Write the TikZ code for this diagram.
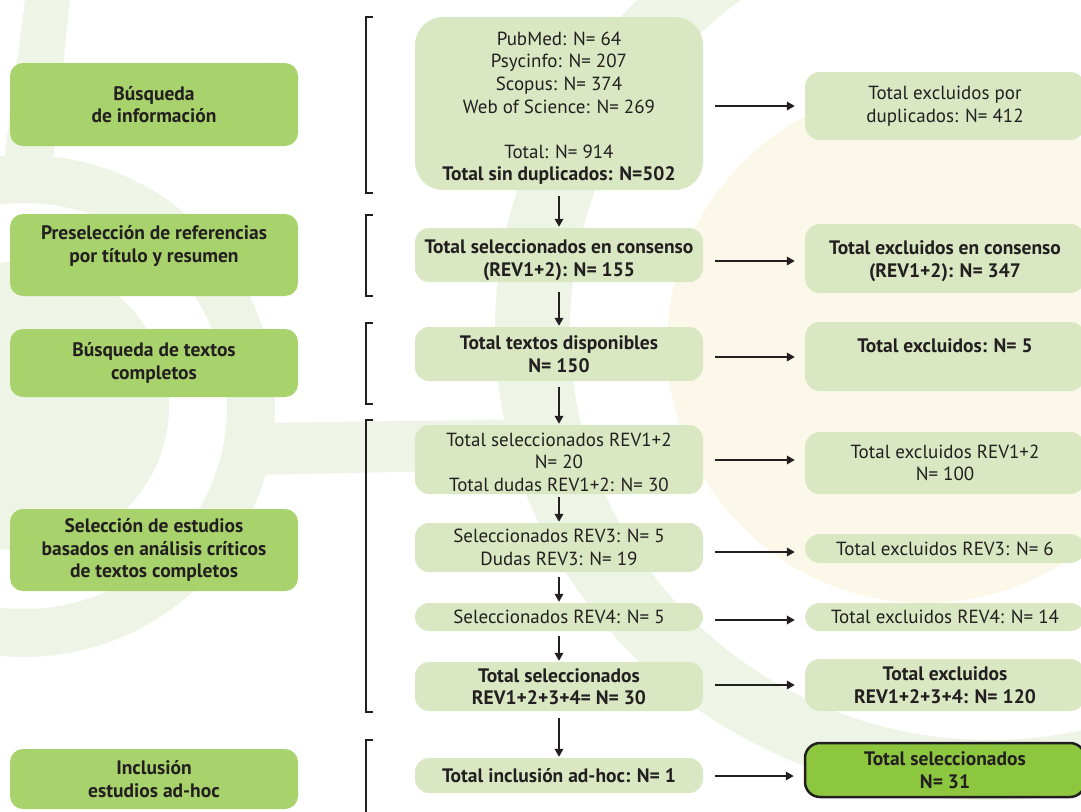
\documentclass[tikz,border=0pt]{standalone}
\usepackage{fontspec}
\setmainfont{PT Sans}
\usetikzlibrary{arrows.meta,calc}
\definecolor{dark}{HTML}{231F20}
\definecolor{lgreen}{HTML}{A8D26B}
\definecolor{pgreen}{HTML}{D9E8C2}
\definecolor{fgreen}{HTML}{8DC63F}
\definecolor{bgg}{HTML}{EEF5E7}
\definecolor{cream}{HTML}{FCF8E9}
\begin{document}
\begin{tikzpicture}[x=1pt,y=-1pt,
  txt/.style={font=\fontsize{19}{22.6}\selectfont, text=dark, align=center, inner sep=0pt},
  lbox/.style={txt, fill=lgreen, rounded corners=13pt, minimum width=288pt, font=\fontsize{19.5}{22.6}\selectfont\bfseries},
  mbox/.style={txt, fill=pgreen, rounded corners=14pt, minimum width=288pt},
  rbox/.style={txt, fill=pgreen, rounded corners=15pt, minimum width=280pt},
  bold/.style={font=\fontsize{19.5}{22.6}\selectfont\bfseries},
  arr/.style={draw=dark, line width=2.3pt, -{Triangle[length=8pt,width=8.5pt]}},
  brk/.style={draw=dark, line width=2.2pt}]
\useasboundingbox (0,0) rectangle (1081,811);
\clip (0,0) rectangle (1081,811);
% background decorations
\fill[cream] (925,345) circle[radius=258pt];
\fill[bgg, even odd rule] (990,330) ellipse[x radius=495pt, y radius=470pt] (990,330) ellipse[x radius=420pt, y radius=410pt];
\fill[bgg] (24,406) circle[radius=145pt];
\fill[bgg, even odd rule] (24,406) circle[radius=251pt] (24,406) circle[radius=203pt];
\fill[bgg] (25,0) -- (70,0) -- (52,170) -- (0,170) -- (0,190) -- cycle;
\fill[bgg] (255,423) -- (540,419) -- (540,469) -- (255,475) -- cycle;
% brackets
\draw[brk] (373,17) -- (366,17) -- (366,193) -- (373,193);
\draw[brk] (373,215) -- (366,215) -- (366,296) -- (373,296);
\draw[brk] (373,323) -- (366,323) -- (366,404) -- (373,404);
\draw[brk] (373,420) -- (366,420) -- (366,712) -- (373,712);
\draw[brk] (373,740) -- (366,740) -- (366,820);
% left column
\node[lbox, minimum height=83pt] (L1) at (154,104.5) {Búsqueda\\de información};
\node[lbox, minimum height=82pt] (L2) at (154,255) {Preselección de referencias\\por título y resumen\\\mbox{}};
\node[lbox, minimum height=68pt] (L3) at (154,363) {Búsqueda de textos\\completos};
\node[lbox, minimum height=82pt] (L4) at (154,550) {Selección de estudios\\basados en análisis críticos\\de textos completos};
\node[lbox, minimum height=60pt] (L5) at (154,779) {Inclusión\\estudios ad-hoc};
% middle column
\node[mbox, rounded corners=28pt, minimum height=173pt] (M1) at (559,103.5) {\rule{0pt}{23pt}PubMed: N= 64\\Psycinfo: N= 207\\Scopus: N= 374\\Web of Science: N= 269\\[22.6pt]Total: N= 914\\\textbf{\fontsize{19.5}{22.6}\selectfont Total sin duplicados: N=502}};
\node[mbox, bold, minimum height=54pt] (M2) at (559,255) {\rule{0pt}{24pt}Total seleccionados en consenso\\(REV1+2): N= 155};
\node[mbox, bold, minimum height=54pt] (M3) at (559,354) {Total textos disponibles\\N= 150};
\node[mbox, minimum height=69pt] (M4) at (559,459.5) {\rule{0pt}{19pt}Total seleccionados REV1+2\\N= 20\\Total dudas REV1+2: N= 30};
\node[mbox, minimum height=49pt] (M5) at (559,547.5) {Seleccionados REV3: N= 5\\Dudas REV3: N= 19};
\node[mbox, minimum height=28pt] (M6) at (559,617) {Seleccionados REV4: N= 5};
\node[mbox, bold, minimum height=49pt] (M7) at (559,686.5) {Total seleccionados\\REV1+2+3+4= N= 30};
\node[mbox, bold, minimum height=35pt] (M8) at (559,775.5) {Total inclusión ad-hoc: N= 1};
% right column
\node[rbox, minimum height=68pt] (R1) at (945,106) {Total excluidos por\\duplicados: N= 412};
\node[rbox, bold, minimum height=69pt] (R2) at (945,258.5) {\rule{0pt}{19pt}Total excluidos en consenso\\(REV1+2): N= 347};
\node[rbox, bold, minimum height=69pt] (R3) at (945,356.5) {Total excluidos: N= 5\\\mbox{}};
\node[rbox, minimum height=62pt] (R4) at (945,463) {Total excluidos REV1+2\\N= 100};
\node[rbox, minimum height=29pt] (R5) at (945,548.5) {Total excluidos REV3: N= 6};
\node[rbox, minimum height=28pt] (R6) at (945,617) {Total excluidos REV4: N= 14};
\node[rbox, bold, minimum height=52pt] (R7) at (945,685) {Total excluidos\\REV1+2+3+4: N= 120};
\node[rbox, bold, fill=fgreen, draw=dark, line width=2.5pt, minimum height=54pt] (R8) at (945,770) {Total seleccionados\\N= 31};
% vertical arrows
\draw[arr, shorten >=1pt] ([yshift=-6pt]M1.south) -- (M2.north);
\draw[arr, shorten >=1pt] ([yshift=-10pt]M2.south) -- (M3.north);
\draw[arr, shorten >=1pt] ([yshift=-6pt]M3.south) -- (M4.north);
\draw[arr, shorten >=1pt] ([yshift=-3pt]M4.south) -- (M5.north);
\draw[arr, shorten >=1pt] ([yshift=-5pt]M5.south) -- (M6.north);
\draw[arr, shorten >=1pt] ([yshift=-5pt]M6.south) -- (M7.north);
\draw[arr, shorten >=1pt] ([yshift=-7pt]M7.south) -- (M8.north);
% horizontal arrows
\draw[arr] ($(M1.east)+(12,2.5)$) -- ($(M1.east -| R1.west)+(-10,2.5)$);
\draw[arr] ($(M2.east)+(12,6)$) -- ($(M2.east -| R2.west)+(-10,6)$);
\draw[arr] ($(M3.east)+(12,3)$) -- ($(M3.east -| R3.west)+(-10,3)$);
\draw[arr] ($(M4.east)+(12,0.5)$) -- ($(M4.east -| R4.west)+(-10,0.5)$);
\draw[arr] ($(M5.east)+(12,4.5)$) -- ($(M5.east -| R5.west)+(-10,4.5)$);
\draw[arr] ($(M6.east)+(12,3)$) -- ($(M6.east -| R6.west)+(-10,3)$);
\draw[arr] ($(M7.east)+(12,-1.5)$) -- ($(M7.east -| R7.west)+(-10,-1.5)$);
\draw[arr] ($(M8.east)+(12,0.5)$) -- ($(M8.east -| R8.west)+(-10,0.5)$);
\end{tikzpicture}
\end{document}
